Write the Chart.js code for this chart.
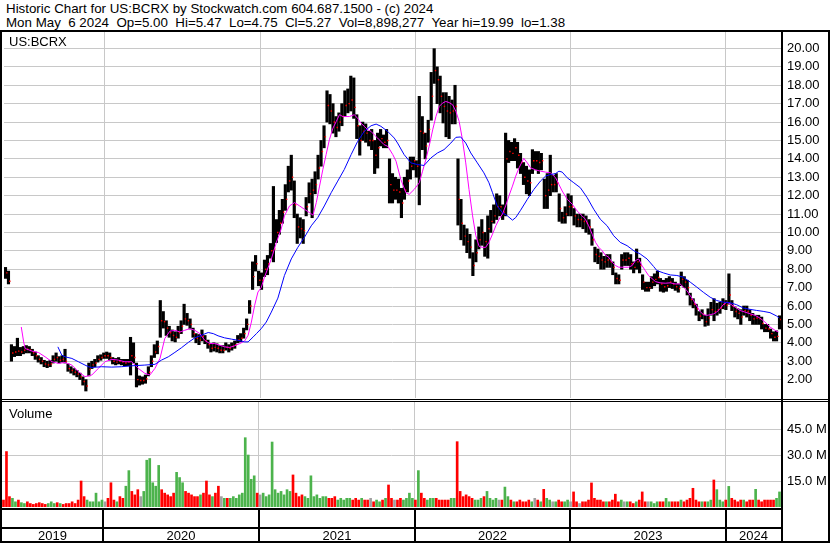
<!DOCTYPE html>
<html><head><meta charset="utf-8">
<script src="https://cdn.jsdelivr.net/npm/chart.js@4"></script>
<style>
html,body{margin:0;padding:0;background:#fff;}
#wrap{position:relative;width:830px;height:543px;overflow:hidden;font-family:"Liberation Sans",Arial,sans-serif;background:#fff;}
.hdr{position:absolute;left:6px;font-size:13.33px;line-height:15px;white-space:pre;color:#000;}
canvas{position:absolute;left:0;}
</style></head><body>
<div id="wrap">
<div class="hdr" style="top:1px">Historic Chart for US:BCRX by Stockwatch.com 604.687.1500 - (c) 2024</div>
<div class="hdr" style="top:15px">Mon May  6 2024  Op=5.00  Hi=5.47  Lo=4.75  Cl=5.27  Vol=8,898,277  Year hi=19.99  lo=1.38</div>
<canvas id="cp" width="830" height="402" style="top:0"></canvas>
<canvas id="cv" width="830" height="143" style="top:400px"></canvas>
</div>
<script>
// ---- data (weekly, first week starting 2019-05-13) ----
const startDate = '2019-05-13';
const years = ['2019','2020','2021','2022','2023','2024'];
const priceTicks = [2,3,4,5,6,7,8,9,10,11,12,13,14,15,16,17,18,19,20];
const volumeTicks = [15,30,45];

const closes = [
7.8,7.35,3.45,3.5,3.55,3.5,3.6,3.65,3.6,3.45,
3.3,3.1,3.0,2.85,2.8,2.85,3.1,3.2,3.05,3.1,
3.0,2.6,2.5,2.4,2.3,2.15,1.9,1.65,2.55,2.8,
2.9,3.1,3.2,3.3,3.3,3.2,3.0,2.95,3.0,2.95,
2.9,2.95,3.3,3.2,2.0,1.95,1.95,2.05,2.4,3.0,
3.5,3.8,5.2,5.15,4.8,4.55,4.4,4.3,4.55,4.9,
5.3,5.2,5.0,4.5,4.25,4.15,4.35,4.1,3.9,3.7,
3.75,3.7,3.6,3.6,3.75,3.7,3.8,3.9,4.15,4.25,
4.5,5.0,6.0,7.6,8.3,7.4,7.4,8.0,8.3,9.0,
9.1,10.0,10.5,11.1,11.8,12.8,13.0,11.5,10.3,10.2,
10.1,11.4,12.1,12.3,12.6,13.5,14.4,15.2,16.9,16.6,
16.0,15.7,16.0,16.3,16.9,17.0,17.2,16.8,15.8,15.0,
15.5,15.4,15.0,15.0,14.2,14.6,15.1,14.9,15.0,12.6,
12.3,12.3,12.2,11.6,12.3,12.8,13.6,13.9,13.6,15.5,
15.4,14.7,15.6,17.4,18.8,18.3,17.4,16.85,16.6,16.5,
16.6,16.85,11.8,10.5,9.8,9.5,9.2,8.2,8.9,9.6,
10.0,9.5,10.2,10.6,10.9,11.4,11.4,11.1,14.0,14.4,
14.3,14.6,14.2,13.8,13.0,12.8,12.7,13.9,13.9,13.8,
13.9,12.0,12.3,12.6,12.6,12.7,11.3,10.8,11.0,11.4,
11.4,10.9,10.7,10.7,10.6,10.5,10.3,9.6,8.8,8.7,
8.5,8.4,8.5,8.4,8.1,7.5,7.4,8.5,8.5,8.6,
8.3,8.1,8.4,8.2,7.3,7.0,7.0,7.3,7.45,7.55,
7.2,7.05,7.1,7.3,7.2,7.05,6.95,7.45,7.3,7.0,
6.35,6.1,5.85,5.45,5.55,5.15,5.35,5.8,5.7,5.8,
5.9,6.1,6.05,6.6,6.0,5.7,5.6,5.4,5.75,5.7,
5.5,5.3,5.35,5.3,5.05,4.8,4.75,4.5,4.3,4.35,
5.27];

const highs = [
8.1,7.9,3.9,3.8,4.25,3.75,3.8,3.85,3.8,3.65,
3.5,3.3,3.2,3.05,3.0,3.05,3.3,3.45,3.25,3.3,
3.65,2.85,2.7,2.6,2.5,2.35,2.15,2.0,2.9,3.0,
3.1,3.3,3.35,3.45,3.5,3.45,3.2,3.15,3.2,3.1,
3.1,3.1,4.3,4.0,2.9,2.2,2.15,2.25,2.7,3.3,
3.9,4.1,6.3,5.7,5.2,4.9,4.7,4.6,4.9,5.2,
6.1,5.6,5.3,4.8,4.5,4.45,4.7,4.4,4.15,3.95,
4.0,3.95,3.85,3.85,4.0,3.9,4.0,4.1,4.4,4.5,
4.8,5.3,6.3,8.4,8.75,7.9,7.8,8.5,8.75,9.4,
12.5,10.7,11.2,11.8,12.6,13.6,14.2,12.8,11.0,10.8,
10.7,11.9,12.7,12.9,13.3,14.2,15.0,15.8,17.7,17.5,
17.0,16.3,16.5,17.0,17.7,17.8,18.5,18.4,16.4,15.8,
16.0,15.9,15.5,15.6,15.0,15.4,15.6,15.3,15.6,14.0,
13.2,13.0,12.9,12.4,13.0,13.4,14.1,14.1,13.9,17.4,
16.3,15.4,16.1,18.7,19.99,19.0,18.5,17.6,17.6,17.4,
17.2,18.0,14.0,11.8,10.4,10.2,9.9,8.9,9.6,10.3,
10.7,10.0,10.9,11.2,11.5,12.1,12.0,11.5,15.4,15.0,
14.9,15.1,14.9,14.3,13.8,13.6,13.4,14.5,14.4,14.4,
14.3,12.9,13.2,14.2,13.1,13.2,12.1,11.1,11.4,12.1,
12.0,11.3,11.0,11.0,11.0,10.9,10.7,10.2,9.2,9.1,
8.9,8.7,8.8,8.8,8.4,7.8,7.7,8.8,8.9,8.9,
8.8,8.4,9.1,8.6,7.7,7.3,7.3,7.6,7.75,7.9,
7.5,7.4,7.5,7.6,7.5,7.3,7.2,7.85,7.6,7.4,
6.7,6.4,6.1,5.7,5.8,5.5,5.85,6.2,6.4,6.15,
6.2,6.4,6.3,7.75,6.3,5.95,5.85,5.8,6.0,6.0,
5.8,5.6,5.5,5.5,5.4,5.0,5.0,4.75,4.6,4.65,
5.47];

const lows = [
7.5,7.2,3.0,3.25,3.3,3.3,3.4,3.45,3.45,3.3,
3.1,2.95,2.85,2.7,2.65,2.7,2.9,3.0,2.9,2.95,
2.9,2.45,2.35,2.25,2.15,2.0,1.7,1.38,2.2,2.6,
2.7,2.95,3.05,3.15,3.15,3.05,2.85,2.8,2.85,2.8,
2.75,2.75,2.25,2.9,1.6,1.7,1.75,1.8,2.2,2.7,
3.2,3.4,4.3,4.8,4.4,4.3,4.1,4.05,4.25,4.5,
5.0,4.95,4.75,4.3,4.0,3.9,4.1,3.95,3.7,3.5,
3.55,3.5,3.45,3.45,3.6,3.5,3.6,3.7,4.0,4.05,
4.25,4.7,5.6,6.9,7.9,7.1,6.9,7.6,7.7,8.6,
8.4,9.45,9.9,10.5,11.2,12.2,12.3,10.8,9.4,9.7,
9.4,10.9,11.6,10.8,12.1,12.9,13.6,14.6,16.0,15.9,
15.4,15.2,15.5,15.8,16.3,16.5,16.6,16.2,15.1,14.2,
15.0,14.9,14.7,14.5,13.2,13.5,14.7,14.6,14.6,11.6,
11.6,11.8,11.6,10.8,11.8,12.2,12.9,13.4,13.0,11.5,
14.5,14.0,14.9,16.1,18.1,17.0,16.5,15.95,15.2,15.1,
15.9,15.9,10.4,9.6,9.3,8.9,8.6,7.65,8.4,9.1,
9.3,8.7,8.6,10.0,10.5,10.7,10.9,10.7,10.9,13.8,
13.9,13.9,13.5,13.2,12.6,12.1,12.0,13.2,13.4,13.2,
13.4,11.3,11.3,12.0,12.2,12.2,10.6,10.5,10.5,10.9,
10.9,10.4,10.3,10.3,10.2,10.0,9.9,9.3,8.4,8.3,
8.0,8.0,8.1,8.1,7.7,7.2,7.2,8.0,8.2,8.2,
8.0,7.8,8.0,7.8,6.9,6.8,6.8,6.95,7.1,7.2,
6.8,6.75,6.8,7.0,6.95,6.85,6.75,7.1,7.0,6.6,
6.05,5.9,5.5,5.2,5.3,4.9,4.95,5.5,5.2,5.5,
5.6,5.85,5.8,6.1,5.75,5.4,5.3,5.0,5.5,5.4,
5.2,5.0,5.0,5.0,4.75,4.6,4.6,4.25,4.1,4.1,
4.75];

const volumes = [ // millions of shares
4,32,6,5,3,4,2.5,2,3,2,
1.5,2,2.5,2,1.5,2,3,2,2.5,2,
1.5,2,2,3,2,4,15,6,4,3,
3,8,3,4,3,5,14,4,3,6,
5,12,21,9,7,10,6,9,27,28,
14,12,24,10,8,7,6,8,20,17,
14,9,8,7,6,6,7,8,15,7,
6,8,12,6,5,5,5,6,5,7,
8,40,30,16,18,8,7,8,6,7,
37.5,10,8,9,7,10,9,18.5,8,6,
7,6,5,18,6,7,5,6,6,5,
5,6,4,5,4,5,5,4,5,4,
5,4,4,5,3,4,3,4,5,12.7,
5,4,4,5,4,5,8,5,4,21,
8,5,4,5,5,5,4,4,4,4,
5,5,37.7,9,6,7,6,5,4,4,
5,6,9,5,4,5,4,4,11.5,6,
4,3,3,4,3,3,4,3,5,4,
3,10.2,5,4,3,3,4,3,3,4,
3,8.7,3,2,3,3,4,13.9,5,4,
4,3,3,3,4,7.4,3,4,3,3,
3,2,3,4,8.7,3,3,3,2,3,
3,3,5,3,3,3,3,4,3,4,
5,10.8,4,3,3,3,3,4,15.6,10,
4,3,4,11.9,5,4,3,4,4,3,
4,4,10.2,4,3,4,4,4,4,5,
8.7];

// short moving average (magenta), read at week positions
const maShortWeeks = [5.3,6.1,6.6,8.9,11.1,13.3,15.6,17.8,20.0,22.3,24.5,26.7,29.0,31.2,33.4,35.7,37.9,40.1,42.4,44.6,46.8,48.5,50.2,51.9,53.5,55.2,56.9,58.6,60.2,61.9,63.6,65.3,66.9,68.6,70.3,72.0,73.6,75.3,77.0,78.7,80.3,81.5,82.6,83.7,84.8,85.9,87.0,89.3,91.0,92.6,93.7,95.4,97.1,98.8,100.4,102.1,103.3,104.4,105.5,106.6,107.7,108.8,110.0,111.1,112.2,113.3,114.4,115.5,117.2,118.3,119.4,120.5,121.7,122.8,123.9,125.0,126.1,127.2,128.4,130.1,131.2,132.8,134.5,135.6,137.3,139.0,140.1,141.2,142.3,143.5,144.6,145.7,146.8,147.9,149.0,150.2,151.3,152.4,153.5,154.6,155.7,156.9,158.0,159.1,160.2,161.3,162.4,163.6,164.7,165.8,166.9,168.0,169.1,170.3,171.4,172.5,174.1,175.3,176.4,178.1,179.7,181.4,183.1,184.8,185.9,187.0,188.7,190.4,192.0,193.7,194.8,195.9,197.1,198.2,199.3,200.4,201.5,202.6,203.8,204.9,206.0,207.6,209.3,210.5,211.6,212.7,213.8,214.9,216.0,218.3,219.9,221.6,223.3,224.9,226.6,227.7,228.9,230.0,231.1,232.2,233.3,234.4,235.6,236.7,237.8,238.9,240.0,241.1,242.3,243.4,244.5,245.6,246.7,248.4,250.1,251.8,253.4,255.1,256.8,258.5,259.6];
const maShort = [4.86,4.05,3.69,3.55,3.47,3.24,2.97,2.88,2.93,2.79,2.43,2.16,2.25,2.61,2.97,3.1,3.06,2.97,2.97,2.61,2.34,2.25,2.61,3.15,4.23,4.63,4.68,4.59,4.68,4.77,4.68,4.5,4.14,3.96,3.96,3.87,3.78,3.75,3.84,3.96,4.09,4.41,5.13,6.04,6.76,7.0,7.57,8.56,9.46,10.18,10.9,11.44,11.62,11.44,11.26,11.08,10.94,11.62,12.52,13.42,14.23,15.04,15.67,16.03,16.4,16.3,16.3,16.3,16.4,16.2,15.94,15.77,15.58,15.49,15.3,15.13,14.95,14.77,14.68,14.23,13.87,12.88,12.16,12.07,12.34,12.7,13.33,13.96,14.68,15.58,16.31,16.85,17.03,17.12,17.06,16.94,16.58,16.03,15.04,13.78,12.34,10.9,9.82,9.24,9.19,9.19,9.46,9.91,10.36,10.72,10.99,11.44,11.98,12.52,13.06,13.51,14.03,13.78,13.51,13.4,13.33,13.28,13.24,12.97,12.61,12.25,11.8,11.53,11.17,10.9,10.72,10.36,9.9,9.46,9.19,9.01,8.77,8.65,8.38,8.2,8.11,8.11,8.11,8.2,8.47,8.56,8.2,7.93,7.66,7.33,7.26,7.24,7.26,7.2,7.2,7.03,6.84,6.57,6.3,6.0,5.71,5.53,5.49,5.53,5.57,5.67,5.85,6.07,6.21,6.12,6.0,5.89,5.76,5.67,5.58,5.49,5.35,5.13,4.86,4.68,4.59];

// long moving average (blue)
const maLongWeeks = [17.6,18.9,20.0,22.3,24.5,26.7,27.9,29.0,32.3,35.7,39.0,42.4,46.8,50.2,52.4,54.7,56.9,59.1,61.4,63.6,65.8,68.1,69.8,71.4,73.6,75.9,78.1,80.3,81.5,83.2,84.3,85.9,87.6,89.3,91.5,93.7,96.0,98.2,100.4,102.7,104.9,107.1,109.4,111.6,113.8,116.1,118.3,120.5,122.8,124.5,126.1,128.4,130.6,131.7,133.9,136.2,138.4,140.6,142.9,145.1,147.3,149.6,151.3,152.9,154.6,156.3,158.5,160.7,162.4,163.6,165.2,166.9,168.6,170.3,171.4,173.0,175.3,177.5,179.7,181.4,183.1,184.8,185.9,187.0,188.7,190.9,193.1,195.4,197.6,199.8,202.1,204.3,206.5,208.8,211.0,213.2,215.5,217.7,218.8,221.0,223.3,225.5,227.7,230.0,232.2,234.4,236.7,238.9,241.1,243.4,245.6,247.9,250.1,252.3,254.5,256.8,259.0,259.9];
const maLong = [3.78,3.33,3.24,3.15,2.97,2.79,2.7,2.66,2.7,2.68,2.7,2.75,2.79,2.83,3.06,3.24,3.48,3.73,4.02,4.27,4.41,4.56,4.5,4.38,4.27,4.2,4.14,4.05,4.05,4.32,4.5,4.77,5.13,5.67,6.43,7.66,8.56,9.19,9.73,10.36,10.81,11.44,12.16,12.79,13.42,14.23,14.95,15.49,15.8,15.89,15.77,15.49,15.13,14.86,14.23,13.78,13.69,13.64,14.05,14.32,14.5,14.86,15.17,15.19,14.86,14.32,13.78,13.24,12.7,12.16,11.44,11.08,10.9,10.67,10.81,11.2,11.8,12.34,12.79,13.06,13.15,13.2,13.33,13.28,12.97,12.7,12.43,11.89,11.26,10.72,10.36,9.82,9.46,9.28,9.01,8.83,8.56,8.15,7.93,7.8,7.69,7.66,7.57,7.3,7.03,6.75,6.48,6.3,6.21,6.18,6.07,5.89,5.82,5.76,5.71,5.64,5.46,5.35];

// ---- derived structures for the library ----
const FONT = '"Liberation Sans", Arial, sans-serif';
const DAY = 86400000;
const t0 = Date.parse(startDate + 'T00:00:00Z');
const yearStarts = years.slice(1).map(y => (Date.parse(y + '-01-01T00:00:00Z') - t0) / (7 * DAY));
const N = closes.length;
const xMin = -0.5, xMax = N - 0.5;

const rangePts = closes.map((c, i) => ({x: i, y: [lows[i], highs[i]]}));
const closePts = closes.map((c, i) => ({x: i + 0.45, y: c}));
const shortPts = maShortWeeks.slice(0, maShort.length).map((w, i) => ({x: w, y: maShort[i]}));
const longPts = maLongWeeks.slice(0, maLong.length).map((w, i) => ({x: w, y: maLong[i]}));
const volPts = volumes.map((v, i) => ({x: i, y: v}));
const volColors = volumes.map((v, i) => {
  if (i === 0) return '#ff0000';
  if (closes[i] > closes[i - 1]) return '#4cb34c';
  if (closes[i] < closes[i - 1]) return '#ff0000';
  return '#a0a0a0';
});

const GRID = '#c8c8c8';
function xScaleOpts() {
  return {
    type: 'linear', min: xMin, max: xMax, offset: false,
    grid: {color: GRID, drawTicks: false, offset: false, lineWidth: 1},
    border: {display: false},
    ticks: {display: false},
    afterBuildTicks: s => { s.ticks = yearStarts.map(v => ({value: v})); },
    afterFit: s => { s.height = 0; s.paddingLeft = 0; s.paddingRight = 0; }
  };
}
function fitRightAxis(s) { s.width = 49; s.paddingTop = 0; s.paddingBottom = 0; }

const priceFrame = {
  id: 'priceFrame',
  afterDraw(chart) {
    const ctx = chart.ctx, a = chart.chartArea;
    ctx.save();
    ctx.fillStyle = '#000';
    ctx.fillRect(0, 30, 830, 2);           // top border
    ctx.fillRect(0, 30, 2, 372);           // left border
    ctx.fillRect(a.right, 30, 2, 372);     // axis line
    ctx.fillRect(828, 30, 2, 372);         // right edge
    ctx.fillRect(0, 399, 830, 1);          // double separator
    ctx.fillRect(0, 401, 830, 1);
    ctx.font = '13px ' + FONT;
    ctx.textBaseline = 'alphabetic';
    ctx.fillText('US:BCRX', 9, 46);
    ctx.restore();
  }
};

const volFrame = {
  id: 'volFrame',
  afterDraw(chart) {
    const ctx = chart.ctx, a = chart.chartArea, xs = chart.scales.x;
    ctx.save();
    ctx.fillStyle = '#000';
    ctx.fillRect(0, 0, 2, 143);
    ctx.fillRect(a.right, 0, 2, 143);
    ctx.fillRect(828, 0, 2, 143);
    ctx.fillRect(0, 1, 830, 1);
    ctx.fillRect(0, a.bottom + 1, a.right, 2);   // bottom of volume panel
    ctx.fillRect(0, a.bottom + 20, a.right, 2);  // strip divider
    ctx.fillRect(0, 141, 830, 2);                // bottom edge
    const bx = yearStarts.map(v => Math.round(xs.getPixelForValue(v)));
    bx.forEach(x => ctx.fillRect(x - 1, a.bottom + 1, 2, 143 - a.bottom));
    ctx.font = '13px ' + FONT;
    ctx.textAlign = 'center';
    ctx.textBaseline = 'alphabetic';
    years.forEach((y, k) => {
      const l = k === 0 ? a.left : bx[k - 1];
      const r = k === years.length - 1 ? a.right : bx[k];
      ctx.fillText(y, (l + r) / 2, 139.5);
    });
    ctx.textAlign = 'left';
    ctx.fillText('Volume', 9, 18);
    ctx.restore();
  }
};

const common = {
  responsive: false, animation: false, devicePixelRatio: 1, events: [],
  plugins: {legend: {display: false}, tooltip: {enabled: false}}
};

new Chart(document.getElementById('cp'), {
  type: 'bar',
  data: {datasets: [
    {type: 'line', data: longPts, borderColor: '#0000ff', borderWidth: 1, pointRadius: 0, tension: 0, fill: false},
    {type: 'line', data: shortPts, borderColor: '#ff00ff', borderWidth: 1, pointRadius: 0, tension: 0, fill: false},
    {type: 'scatter', data: closePts, pointStyle: 'rect', pointRadius: 1, backgroundColor: '#ff0000', borderWidth: 0},
    {type: 'bar', data: rangePts, backgroundColor: '#000000', barThickness: 2.5, borderWidth: 0, grouped: false}
  ]},
  options: Object.assign({}, common, {
    layout: {padding: {left: 2, right: 0, top: 31, bottom: 2}},
    scales: {
      x: xScaleOpts(),
      y: {
        type: 'linear', position: 'right', min: 1, max: 20.95,
        grid: {color: GRID, drawTicks: false},
        border: {display: false},
        afterBuildTicks: s => { s.ticks = priceTicks.map(v => ({value: v})); },
        afterFit: fitRightAxis,
        ticks: {padding: 6, color: '#000', autoSkip: false, font: {family: FONT, size: 13},
                callback: v => Number(v).toFixed(2)}
      }
    }
  }),
  plugins: [priceFrame]
});

new Chart(document.getElementById('cv'), {
  type: 'bar',
  data: {datasets: [
    {type: 'bar', data: volPts, backgroundColor: volColors, barThickness: 2, borderWidth: 0, grouped: false}
  ]},
  options: Object.assign({}, common, {
    layout: {padding: {left: 2, right: 0, top: 2, bottom: 36}},
    scales: {
      x: xScaleOpts(),
      y: {
        type: 'linear', position: 'right', min: 0, max: 60.6,
        grid: {color: GRID, drawTicks: false},
        border: {display: false},
        afterBuildTicks: s => { s.ticks = volumeTicks.map(v => ({value: v})); },
        afterFit: fitRightAxis,
        ticks: {padding: 6, color: '#000', autoSkip: false, font: {family: FONT, size: 13},
                callback: v => Number(v).toFixed(1) + ' M'}
      }
    }
  }),
  plugins: [volFrame]
});
</script>
</body></html>
